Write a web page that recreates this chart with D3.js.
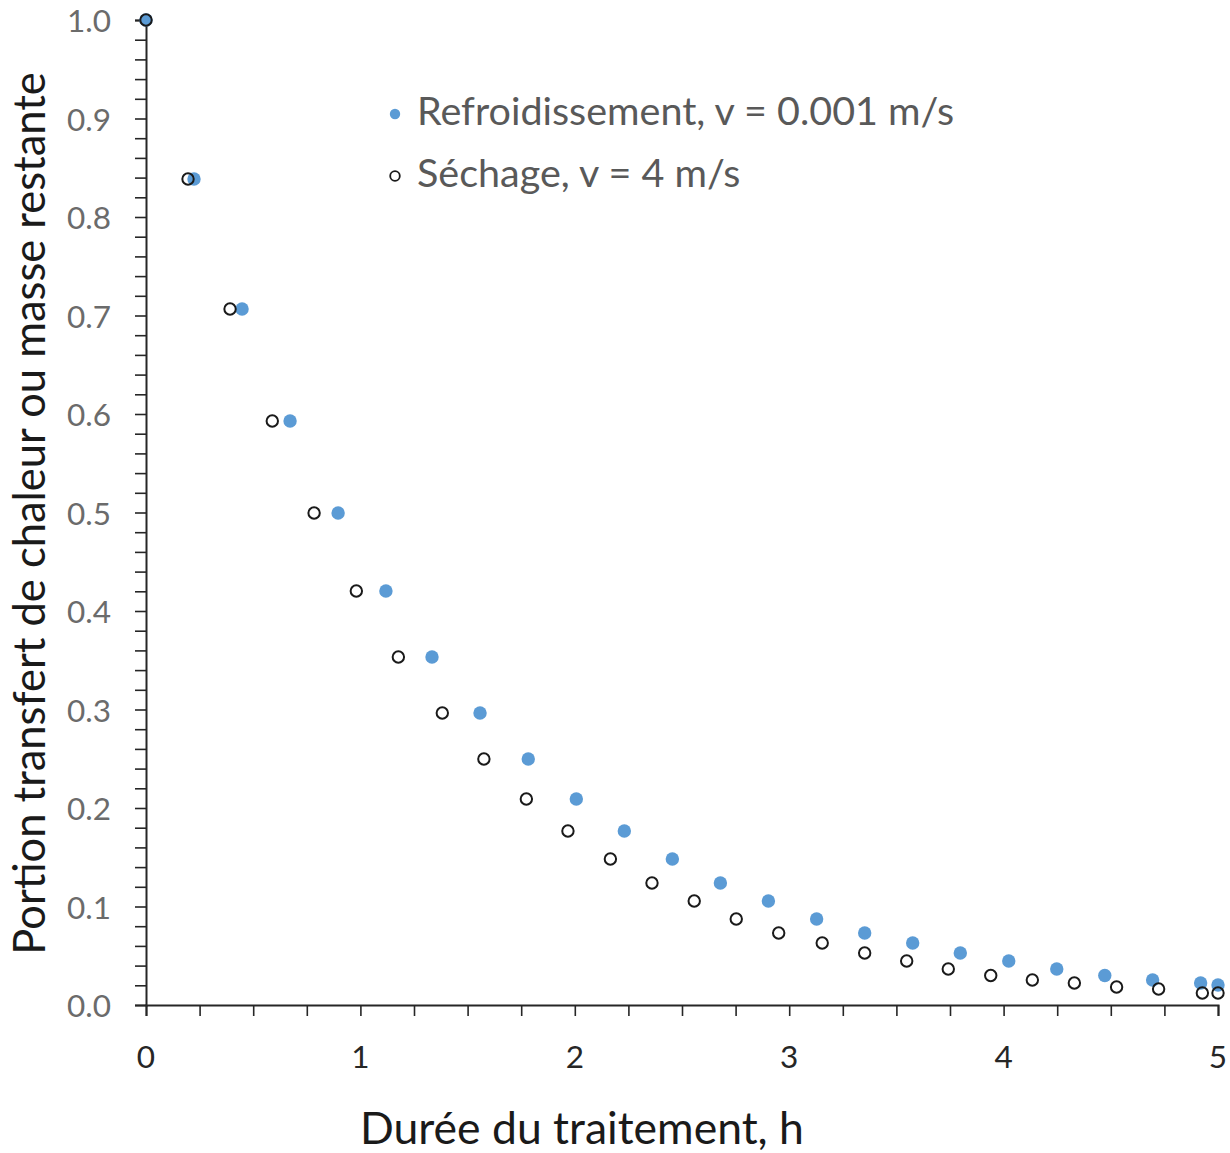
<!DOCTYPE html>
<html>
<head>
<meta charset="utf-8">
<script src="https://cdn.jsdelivr.net/npm/d3@7"></script>
<style>
  html, body { margin: 0; padding: 0; background: #fff; }
  svg { display: block; }
</style>
</head>
<body>
<svg id="chart" width="1230" height="1153"></svg>
<script>
// ---- Data ----
const coolingX = [0, 0.224, 0.448, 0.672, 0.896, 1.119, 1.334, 1.558, 1.783, 2.007, 2.231, 2.455, 2.679, 2.903, 3.128, 3.352, 3.576, 3.798, 4.024, 4.248, 4.472, 4.695, 4.919, 5.0];
const coolingY = [1.0, 0.8386, 0.7066, 0.5929, 0.4995, 0.4203, 0.3533, 0.2964, 0.2497, 0.2091, 0.1766, 0.1482, 0.1239, 0.1056, 0.0873, 0.0731, 0.0629, 0.0528, 0.0447, 0.0365, 0.0299, 0.0254, 0.0223, 0.0203];
const dryingX = [0, 0.196, 0.392, 0.589, 0.784, 0.981, 1.177, 1.382, 1.576, 1.774, 1.968, 2.166, 2.360, 2.557, 2.753, 2.951, 3.154, 3.352, 3.548, 3.742, 3.940, 4.134, 4.330, 4.527, 4.723, 4.927, 5.0];
const dryingY = [1.0, 0.8386, 0.7066, 0.5929, 0.4995, 0.4203, 0.3533, 0.2964, 0.2497, 0.2091, 0.1766, 0.1482, 0.1239, 0.1056, 0.0873, 0.0731, 0.0629, 0.0528, 0.0447, 0.0365, 0.0299, 0.0254, 0.0223, 0.0183, 0.0162, 0.0122, 0.0122];
const xTickValues = [0, 1, 2, 3, 4, 5];
const yTickValues = [0.0, 0.1, 0.2, 0.3, 0.4, 0.5, 0.6, 0.7, 0.8, 0.9, 1.0];
const seriesNames = ["Refroidissement, v = 0.001 m/s", "Séchage, v = 4 m/s"];
const xTitle = "Durée du traitement, h";
const yTitle = "Portion transfert de chaleur ou masse restante";

// ---- Layout ----
const plotLeft = 146, plotRight = 1218, plotTop = 20, plotBottom = 1005;
const FONT = "Lato, 'Open Sans', sans-serif";
const svg = d3.select("#chart");

const x = d3.scaleLinear().domain([0, 5]).range([plotLeft, plotRight]);
const y = d3.scaleLinear().domain([0, 1]).range([plotBottom, plotTop]);

const axisColor = "#262626";

// X axis (minor ticks every 0.25)
const xAxis = svg.append("g").attr("transform", `translate(0,${plotBottom})`)
  .call(d3.axisBottom(x).tickValues(d3.range(0, 5.0001, 0.25)).tickSize(11).tickFormat(""));
xAxis.select(".domain").attr("stroke", axisColor).attr("stroke-width", 2);
xAxis.selectAll(".tick line").attr("stroke", axisColor).attr("stroke-width", 1.6);

svg.append("g").selectAll("text").data(xTickValues).join("text")
  .attr("x", d => x(d)).attr("y", 1068)
  .attr("text-anchor", "middle")
  .attr("font-family", FONT).attr("font-size", 31.5)
  .attr("fill", "#262626")
  .text(d => d3.format("d")(d));

// Y axis (minor ticks every 0.02)
const yAxis = svg.append("g").attr("transform", `translate(${plotLeft},0)`)
  .call(d3.axisLeft(y).tickValues(d3.range(0, 1.0001, 0.02)).tickSize(11).tickFormat(""));
yAxis.select(".domain").attr("stroke", axisColor).attr("stroke-width", 2);
yAxis.selectAll(".tick line").attr("stroke", axisColor).attr("stroke-width", 1.6);

svg.append("g").selectAll("text").data(yTickValues).join("text")
  .attr("x", 111).attr("y", d => y(d) + 12)
  .attr("text-anchor", "end")
  .attr("font-family", FONT).attr("font-size", 31.5)
  .attr("fill", "#6b6b6b")
  .text(d => d3.format(".1f")(d));

// Axis titles
svg.append("text")
  .attr("x", 582).attr("y", 1144)
  .attr("text-anchor", "middle")
  .attr("font-family", FONT).attr("font-size", 44.5)
  .attr("fill", "#1a1a1a")
  .text(xTitle);

svg.append("text")
  .attr("transform", `translate(45,${(62 + 965) / 2}) rotate(-90)`)
  .attr("text-anchor", "middle")
  .attr("font-family", FONT).attr("font-size", 43.5)
  .attr("fill", "#1a1a1a")
  .text(yTitle);

// Series
const blue = "#5b9bd5";
const coolPts = coolingX.map((v, i) => ({x: v, y: coolingY[i]}));
const dryPts = dryingX.map((v, i) => ({x: v, y: dryingY[i]}));

svg.append("g").selectAll("circle").data(coolPts).join("circle")
  .attr("cx", d => x(d.x)).attr("cy", d => y(d.y)).attr("r", 6.7)
  .attr("fill", blue);

svg.append("g").selectAll("circle").data(dryPts).join("circle")
  .attr("cx", d => x(d.x)).attr("cy", d => y(d.y)).attr("r", 5.7)
  .attr("fill", "none").attr("stroke", "#1a1a1a").attr("stroke-width", 2);

// Legend
const legend = svg.append("g");
legend.append("circle").attr("cx", 395).attr("cy", 114).attr("r", 5.2).attr("fill", blue);
legend.append("circle").attr("cx", 395).attr("cy", 176).attr("r", 4.8)
  .attr("fill", "none").attr("stroke", "#1a1a1a").attr("stroke-width", 1.8);
legend.selectAll("text").data(seriesNames).join("text")
  .attr("x", 417).attr("y", (d, i) => 125 + i * 62)
  .attr("font-family", FONT).attr("font-size", 39.5)
  .attr("fill", "#595959")
  .text(d => d);
</script>
</body>
</html>
